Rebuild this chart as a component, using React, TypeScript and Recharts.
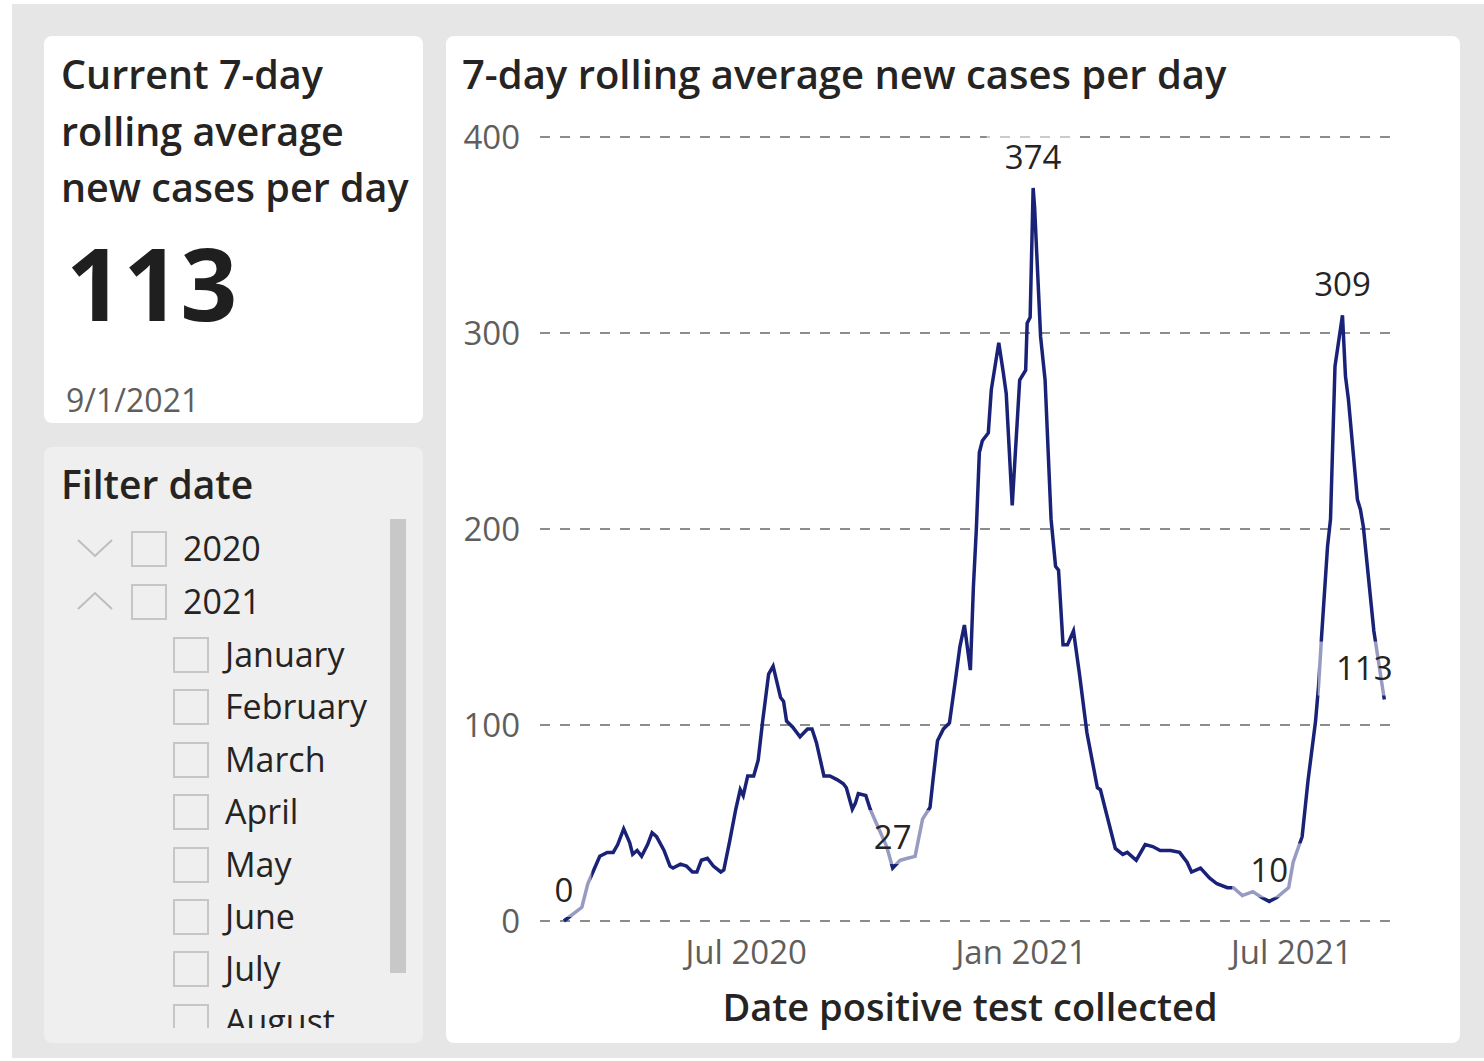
import { LineChart, Line, XAxis, YAxis, CartesianGrid, LabelList, Label } from "recharts"

const FONT = '"Open Sans", "Noto Sans", sans-serif'
const NAVY = "#1a2278"
const DARK = "#252423"
const GREY_TEXT = "#605E5C"

// days since 1 Mar 2020
const days = [
  0, 12, 16, 20, 24, 29, 33, 36, 40, 44, 46, 49, 52, 56, 59, 62, 67, 71, 73, 78,
  82, 86, 89, 92, 96, 100, 105, 107, 111, 115, 118, 120, 123, 127, 130, 133, 137, 140, 145, 147,
  149, 153, 158, 163, 166, 169, 174, 178, 183, 187, 189, 193, 195, 197, 202, 205, 209, 216, 220, 225,
  230, 235, 240, 245, 247, 250, 254, 258, 262, 265, 268, 272, 274, 276, 278, 280, 284, 286, 291, 294,
  296, 300, 305, 309, 310, 312, 314, 315, 319, 322, 326, 329, 331, 334, 337, 341, 345, 350, 357, 359,
  363, 369, 374, 377, 383, 389, 394, 399, 406, 412, 417, 420, 426, 432, 437, 444, 448, 454, 461, 467,
  472, 477, 485, 488, 494, 498, 503, 505, 507, 511, 513, 516, 521, 523, 525, 531, 533, 535, 542, 549,
]

// 7-day rolling average of new cases
const cases = [
  0, 7, 19, 26, 33, 35, 35, 39, 47, 40, 34, 36, 33, 39, 45, 43, 36, 28, 27, 29,
  28, 25, 25, 31, 32, 28, 25, 26, 41, 57, 67, 64, 74, 74, 82, 102, 126, 130, 114, 112,
  102, 99, 94, 98, 98, 91, 74, 74, 72, 70, 68, 57, 60, 65, 64, 57, 50, 38, 27, 31,
  32, 33, 52, 58, 72, 92, 98, 101, 123, 140, 151, 128, 170, 200, 239, 245, 249, 271, 295, 280,
  269, 212, 276, 281, 305, 308, 374, 364, 298, 276, 205, 181, 179, 141, 141, 148, 126, 96, 68, 67,
  55, 37, 34, 35, 31, 39, 38, 36, 36, 35, 30, 25, 27, 22, 19, 17, 17, 13, 15, 12,
  10, 12, 17, 30, 43, 72, 102, 120, 145, 191, 205, 283, 309, 278, 266, 215, 210, 201, 148, 113,
]

// points that carry a data label (first, lows, highs, last)
const labeledDays = [0, 220, 314, 472, 521, 549]

const tickDates = ["2020-07-01", "2021-01-01", "2021-07-01"]
const tickLabels = ["Jul 2020", "Jan 2021", "Jul 2021"]
const yTicks = [0, 100, 200, 300, 400]

const years = ["2020", "2021"]
const months = ["January", "February", "March", "April", "May", "June", "July", "August"]

const START = Date.UTC(2020, 2, 1)
const DAY = 86400000
const dayOf = (iso: string) => Math.round((Date.parse(iso) - START) / DAY)
const tickDays = tickDates.map(dayOf)

const data = days.map((d, i) => ({
  day: d,
  cases: cases[i],
  label: labeledDays.includes(d) ? String(cases[i]) : null,
}))

function PointLabel(props: any) {
  const { value, index } = props
  const x = props.x ?? props.viewBox?.x
  const y = props.y ?? props.viewBox?.y
  if (value === null || value === undefined || value === "") return null
  const text = String(value)
  const isLast = index === data.length - 1
  const w = text.length * 19
  const cx = isLast ? x - 20 : x
  const cy = y - 31
  return (
    <g>
      <rect x={cx - w / 2 - 18} y={cy - 27} width={w + 36} height={54} fill="#fff" fillOpacity={0.55} />
      <text x={cx} y={cy} dy="0.36em" textAnchor="middle" fontSize={33} fill={DARK} fontFamily={FONT}>
        {text}
      </text>
    </g>
  )
}

function Chevron({ up }: { up: boolean }) {
  return (
    <svg width={36} height={20} style={{ position: "absolute", left: 33, top: -10 }}>
      <polyline
        points={up ? "1,18 18,2 35,18" : "1,2 18,18 35,2"}
        fill="none"
        stroke="#bdbdbd"
        strokeWidth={2}
      />
    </svg>
  )
}

function Box({ left }: { left: number }) {
  return (
    <div
      style={{
        position: "absolute",
        left,
        top: -17,
        width: 32,
        height: 32,
        border: "2px solid #c6c6c6",
        boxSizing: "content-box",
      }}
    />
  )
}

function Row({ top, indent, text, chevron }: { top: number; indent: boolean; text: string; chevron?: "up" | "down" }) {
  return (
    <div style={{ position: "absolute", left: 0, top, width: 340, height: 0 }}>
      {chevron && <Chevron up={chevron === "up"} />}
      <Box left={indent ? 129 : 87} />
      <div
        style={{
          position: "absolute",
          left: indent ? 181 : 139,
          top: -24,
          fontSize: 34,
          lineHeight: "48px",
          color: DARK,
          whiteSpace: "nowrap",
        }}
      >
        {text}
      </div>
    </div>
  )
}

export default function App() {
  return (
    <div
      style={{
        position: "absolute",
        left: 0,
        top: 0,
        width: 1484,
        height: 1061,
        background: "#fff",
        fontFamily: FONT,
        overflow: "hidden",
      }}
    >
      <div style={{ position: "absolute", left: 12, top: 4, width: 1472, height: 1054, background: "#e6e6e6" }} />

      {/* KPI card */}
      <div style={{ position: "absolute", left: 44, top: 36, width: 379, height: 387, background: "#fff", borderRadius: 8 }}>
        <div
          style={{
            position: "absolute",
            left: 17,
            top: 10,
            width: 362,
            fontSize: 39.5,
            fontWeight: 600,
            lineHeight: "56.5px",
            color: DARK,
            whiteSpace: "nowrap",
          }}
        >
          Current 7-day
          <br />
          rolling average
          <br />
          new cases per day
        </div>
        <div
          style={{
            position: "absolute",
            left: 22,
            top: 196,
            fontSize: 100,
            fontWeight: 700,
            lineHeight: "100px",
            color: "#1f1f1f",
          }}
        >
          113
        </div>
        <div style={{ position: "absolute", left: 22, top: 344, fontSize: 32, lineHeight: "40px", color: GREY_TEXT }}>
          9/1/2021
        </div>
      </div>

      {/* Filter card */}
      <div style={{ position: "absolute", left: 44, top: 447, width: 379, height: 596, background: "#efefef", borderRadius: 8 }}>
        <div
          style={{
            position: "absolute",
            left: 17,
            top: 12,
            fontSize: 39,
            fontWeight: 600,
            lineHeight: "50px",
            color: DARK,
          }}
        >
          Filter date
        </div>
        <div style={{ position: "absolute", left: 346, top: 72, width: 16, height: 454, background: "#c8c8c8" }} />
        <div style={{ position: "absolute", left: 0, top: 60, width: 340, height: 521, overflow: "hidden" }}>
          {years.map((y, i) => (
            <Row key={y} top={41 + i * 53} indent={false} text={y} chevron={i === 0 ? "down" : "up"} />
          ))}
          {months.map((m, i) => (
            <Row key={m} top={147 + i * 52.4} indent text={m} />
          ))}
        </div>
      </div>

      {/* Chart card */}
      <div style={{ position: "absolute", left: 446, top: 36, width: 1014, height: 1007, background: "#fff", borderRadius: 8 }}>
        <div
          style={{
            position: "absolute",
            left: 16,
            top: 13,
            fontSize: 40,
            fontWeight: 600,
            lineHeight: "50px",
            color: DARK,
            whiteSpace: "nowrap",
          }}
        >
          7-day rolling average new cases per day
        </div>
        <div style={{ position: "absolute", left: 0, top: 64 }}>
          <LineChart
            width={1014}
            height={943}
            data={data}
            margin={{ top: 37, right: 60, bottom: 22, left: 14 }}
            style={{ fontFamily: FONT }}
          >
            <CartesianGrid vertical={false} stroke="#8c8c8c" strokeWidth={2} strokeDasharray="10 10" />
            <XAxis
              dataKey="day"
              type="number"
              domain={[-16, 559.5]}
              ticks={tickDays}
              tickFormatter={(v: number) => tickLabels[tickDays.indexOf(v)]}
              axisLine={false}
              tickLine={false}
              tickMargin={14}
              height={100}
              tick={{ fontSize: 33, fill: GREY_TEXT, fontFamily: FONT }}
            >
              <Label
                value="Date positive test collected"
                position="insideBottom"
                offset={0}
                fill={DARK}
                fontSize={38}
                fontWeight={600}
                fontFamily={FONT}
              />
            </XAxis>
            <YAxis
              type="number"
              domain={[0, 400]}
              ticks={yTicks}
              axisLine={false}
              tickLine={false}
              tickMargin={14}
              width={80}
              tick={{ fontSize: 33, fill: GREY_TEXT, fontFamily: FONT }}
            />
            <Line
              type="linear"
              dataKey="cases"
              stroke={NAVY}
              strokeWidth={3.5}
              dot={false}
              activeDot={false}
              isAnimationActive={false}
            >
              <LabelList dataKey="label" content={PointLabel} />
            </Line>
          </LineChart>
        </div>
      </div>
    </div>
  )
}
